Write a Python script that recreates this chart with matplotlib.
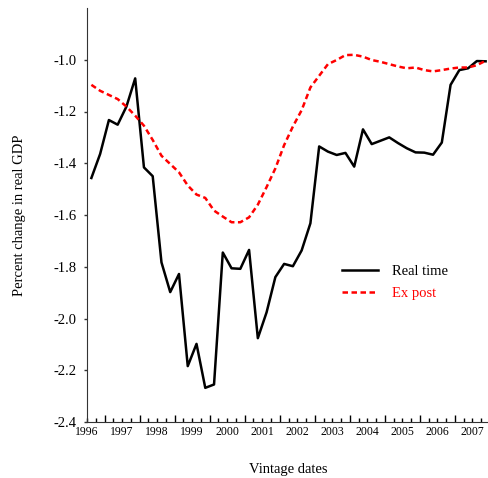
import numpy as np
import matplotlib.pyplot as plt
from matplotlib.ticker import MultipleLocator
from matplotlib import transforms

plt.rcParams['font.family'] = ['Liberation Serif', 'DejaVu Serif']

# quarterly vintages, 1996Q1 .. 2007Q3 (plotted at quarter midpoints)
n_quarters = 46
vintages = 1996 + (np.arange(n_quarters) + 0.5) / 4

real_time = [-1.457, -1.364, -1.233, -1.251, -1.181, -1.072, -1.416, -1.450,
             -1.783, -1.898, -1.828, -2.184, -2.098, -2.268, -2.255, -1.745,
             -1.806, -1.808, -1.735, -2.076, -1.976, -1.840, -1.789, -1.798,
             -1.737, -1.632, -1.335, -1.355, -1.368, -1.360, -1.413, -1.269,
             -1.326, -1.313, -1.300, -1.322, -1.342, -1.358, -1.359, -1.367,
             -1.320, -1.097, -1.040, -1.033, -1.005, -1.006]

ex_post = [-1.097, -1.120, -1.136, -1.152, -1.181, -1.216, -1.255, -1.310,
           -1.371, -1.403, -1.435, -1.486, -1.521, -1.534, -1.583, -1.606,
           -1.628, -1.628, -1.609, -1.560, -1.492, -1.420, -1.330, -1.258,
           -1.195, -1.107, -1.062, -1.017, -1.001, -0.982, -0.981, -0.988,
           -1.001, -1.008, -1.017, -1.026, -1.033, -1.030, -1.040, -1.045,
           -1.040, -1.034, -1.030, -1.030, -1.021, -1.004]

years = list(range(1996, 2008))
yticks = [-1.0, -1.2, -1.4, -1.6, -1.8, -2.0, -2.2, -2.4]

fig = plt.figure(figsize=(4.89, 4.78), dpi=100)
ax = fig.add_axes([87/489, 1 - 422/478, (490 - 87)/489, (422 - 8)/478])

ax.plot(vintages, real_time, color='black', linewidth=1.8, label='Real time')
ax.plot(vintages, ex_post, color='red', linewidth=1.8, dashes=(2.2, 1.4),
        label='Ex post')

ax.set_xlim(1996, 2007.5)
ax.set_ylim(-2.4, -0.8)
ax.spines['top'].set_visible(False)
ax.spines['right'].set_visible(False)
ax.spines['left'].set_color('#333333')
ax.spines['bottom'].set_color('#333333')

# long ticks mid-year, short ticks each quarter, year labels at year start
ax.set_xticks(np.arange(1996.5, 2007.6, 1.0))
ax.set_xticklabels([])
ax.xaxis.set_minor_locator(MultipleLocator(0.25))
ax.tick_params(axis='x', which='major', direction='in', length=5, width=1)
ax.tick_params(axis='x', which='minor', direction='in', length=3, width=1)
shift = transforms.ScaledTranslation(0, -3/72, fig.dpi_scale_trans)
for yr in years:
    ax.text(yr, -2.4, str(yr), ha='center', va='top', fontsize=8.5,
            transform=ax.transData + shift)

ax.set_yticks(yticks)
ax.set_yticklabels(['%.1f' % v for v in yticks])
ax.tick_params(axis='y', direction='out', length=2.5, width=1, pad=5,
               labelsize=10.5, color='#333333')

ax.set_xlabel('Vintage dates', fontsize=10.5, labelpad=26)
ax.set_ylabel('Percent change in real GDP', fontsize=10.5, labelpad=20)

leg = ax.legend(loc='upper left', bbox_to_anchor=(0.6, 0.412), frameon=False,
                fontsize=10.5, handlelength=2.5, handletextpad=0.95,
                labelspacing=0.62)
leg.get_texts()[1].set_color('red')

fig.savefig('out.png', dpi=100)
